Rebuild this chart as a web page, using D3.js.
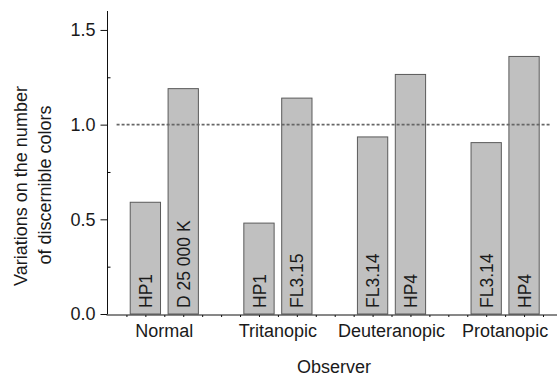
<html>
<head>
<style>
  body { margin: 0; background: white; font-family: "Liberation Sans", Arial, sans-serif; }
  svg text { fill: #1a1a1a; }
</style>
<script src="https://cdn.jsdelivr.net/npm/d3@7"></script>
</head>
<body>
<svg id="chart" width="558" height="376"></svg>
<script>

// observer groups and the two light sources shown for each
const groups = ["Normal", "Tritanopic", "Deuteranopic", "Protanopic"]
const barLabels = ["HP1", "D 25 000 K", "HP1", "FL3.15", "FL3.14", "HP4", "FL3.14", "HP4"]
const barGroup = [0, 0, 1, 1, 2, 2, 3, 3]
const values = [0.59, 1.19, 0.48, 1.14, 0.935, 1.265, 0.905, 1.36]
const yTicks = [0, 0.5, 1.0, 1.5]
const yMinorTicks = [0.25, 0.75, 1.25]
const refValue = 1.0

let svg = d3.select("#chart")

// bar slots: two per group, a blank slot between groups
let barPos = values.map((v, i) => 1 + barGroup[i] * 3 + (i % 2))

let x = d3.scaleLinear().domain([0, 11.87]).range([107.5, 557])
let y = d3.scaleLinear().domain([0, 1.6]).range([314, 11])

// bars
svg.selectAll("rect.bar").data(values)
  .enter().append("rect")
  .attr("class", "bar")
  .attr("x", (d, i) => x(barPos[i] - 0.4))
  .attr("width", (d, i) => x(barPos[i] + 0.4) - x(barPos[i] - 0.4))
  .attr("y", d => y(d))
  .attr("height", d => y(0) - y(d))
  .attr("fill", "#c0c0c0")
  .attr("stroke", "#5a5a5a")
  .attr("stroke-width", 1)

// labels inside bars
svg.selectAll("text.blabel").data(barLabels)
  .enter().append("text")
  .attr("class", "blabel")
  .attr("transform", (d, i) => `translate(${x(barPos[i])},${y(0) - 6}) rotate(-90)`)
  .attr("dy", "0.38em")
  .attr("font-size", 17.5)
  .text(d => d)

// dotted reference line at 1.0
svg.append("line")
  .attr("x1", x(0.24)).attr("x2", x(11.7))
  .attr("y1", y(refValue)).attr("y2", y(refValue))
  .attr("stroke", "#666")
  .attr("stroke-width", 1.6)
  .attr("stroke-dasharray", "3,2")

// y axis
let yAxis = d3.axisLeft(y).tickValues(yTicks).tickFormat(d3.format(".1f")).tickSize(7).tickPadding(5)
let gy = svg.append("g").attr("transform", `translate(${x(0)},0)`).call(yAxis)
gy.select(".domain").attr("d", `M0,${y(1.6)}V${y(0)}`)
gy.selectAll("text").attr("font-size", 18).attr("font-family", "Liberation Sans, Arial, sans-serif")
gy.selectAll("line, path").attr("stroke", "#111")
let gyMinor = svg.append("g").attr("transform", `translate(${x(0)},0)`)
  .call(d3.axisRight(y).tickValues(yMinorTicks).tickSize(3).tickFormat(""))
gyMinor.select(".domain").remove()

// x axis with small ticks every half slot
let xTickVals = d3.range(1, 24).map(d => d / 2)
let gx = svg.append("g").attr("transform", `translate(0,${y(0) + 1})`)
  .call(d3.axisBottom(x).tickValues(xTickVals).tickSize(2).tickFormat(""))
gx.select(".domain").attr("d", `M${x(0) - 1},0H${x(11.87)}`)
gx.selectAll("line, path").attr("stroke", "#111")

// group names
svg.selectAll("text.glabel").data(groups)
  .enter().append("text")
  .attr("class", "glabel")
  .attr("x", (d, i) => x(1.5 + i * 3))
  .attr("y", 337)
  .attr("text-anchor", "middle")
  .attr("font-size", 18)
  .text(d => d)

svg.append("text")
  .attr("x", 334).attr("y", 373)
  .attr("text-anchor", "middle")
  .attr("font-size", 18)
  .text("Observer")

svg.append("text")
  .attr("transform", "translate(27,186) rotate(-90)")
  .attr("text-anchor", "middle")
  .attr("font-size", 18)
  .text("Variations on the number")
svg.append("text")
  .attr("transform", "translate(51,185) rotate(-90)")
  .attr("text-anchor", "middle")
  .attr("font-size", 18)
  .text("of discernible colors")

</script>
</body>
</html>
